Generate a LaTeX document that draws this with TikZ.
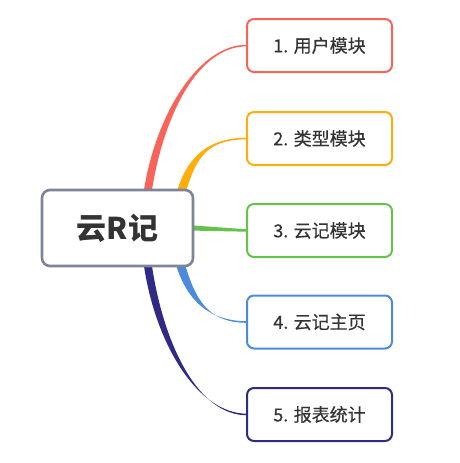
\documentclass[tikz,border=0pt]{standalone}
\usepackage{fontspec}
\newfontfamily\cjk{Noto Sans CJK SC}
\newfontfamily\cjkmed[FakeBold=0.35]{Noto Sans CJK SC}
\usetikzlibrary{calc}
\definecolor{cred}{HTML}{F8645A}
\definecolor{corange}{HTML}{FDAD0C}
\definecolor{cgreen}{HTML}{66C24C}
\definecolor{cblue}{HTML}{4C8BDB}
\definecolor{cpurple}{HTML}{302A87}
\definecolor{cgray}{HTML}{7F8497}
\definecolor{ctext}{HTML}{333333}
\newcommand\taper[7]{%
  \fill[#1] ($#2+(-#6/2,0)$) .. controls ($#3+(-#6/2,0)$) and ($#4+(0,-#7/2)$) .. ($#5+(0,-#7/2)$)
    -- ($#5+(0,#7/2)$) .. controls ($#4+(0,#7/2)$) and ($#3+(#6/2,0)$) .. ($#2+(#6/2,0)$) -- cycle;}
\tikzset{
  rootbox/.style={draw=cgray, line width=2.6pt, rounded corners=8pt, fill=white,
    minimum width=151pt, minimum height=76pt, text=ctext, font=\cjk\bfseries\fontsize{30}{34}\selectfont},
  leafbox/.style={draw=#1, line width=2pt, rounded corners=7pt, fill=white,
    minimum width=145pt, minimum height=53pt, text=ctext, font=\cjkmed\fontsize{18}{22}\selectfont},
}
\begin{document}
\begin{tikzpicture}[x=1pt,y=-1pt]
\useasboundingbox (0,0) rectangle (460,463);
% placeholders for anchors (drawn again on top)
\node[leafbox=cred, draw=none, fill=none] (b1) at (319.5,45.5) {};
\node[leafbox=corange, draw=none, fill=none] (b2) at (319.5,138.5) {};
\node[leafbox=cgreen, draw=none, fill=none] (b3) at (319.5,230.5) {};
\node[leafbox=cblue, draw=none, fill=none] (b4) at (319.5,322) {};
\node[leafbox=cpurple, draw=none, fill=none] (b5) at (319.5,414.5) {};
\node[rootbox, draw=none, fill=none] (c) at (117.5,228) {};
\coordinate (r0) at ($(c.north)+(30.5,1)$);
\coordinate (o0) at ($(c.north)+(64.5,1)$);
\coordinate (bl0) at ($(c.south)+(63.5,-1)$);
\coordinate (p0) at ($(c.south)+(30.5,-1)$);
\coordinate (r3) at ($(b1.west)+(1,0)$);
\coordinate (o3) at ($(b2.west)+(1,0)$);
\coordinate (bl3) at ($(b4.west)+(1,0)$);
\coordinate (p3) at ($(b5.west)+(1,0)$);
% connectors
\taper{cred}{(r0)}{(160,115)}{(198,45.5)}{(r3)}{8}{1.6}
\taper{corange}{(o0)}{(192,158)}{(207,138.5)}{(o3)}{9}{1.6}
\taper{cblue}{(bl0)}{(191,298)}{(207,322)}{(bl3)}{9}{1.6}
\taper{cpurple}{(p0)}{(160,345)}{(198,414.5)}{(p3)}{8}{1.6}
\fill[cgreen] ($(c.east)+(-2,-2.6)$) -- ($(b3.west)+(1,-1.2)$) -- ($(b3.west)+(1,1.2)$) -- ($(c.east)+(-2,2.6)$) -- cycle;
% boxes
\node[rootbox] (c) at (117.5,228) {云R记};
\node[leafbox=cred] (b1) at (319.5,45.5) {1. 用户模块};
\node[leafbox=corange] (b2) at (319.5,138.5) {2. 类型模块};
\node[leafbox=cgreen] (b3) at (319.5,230.5) {3. 云记模块};
\node[leafbox=cblue] (b4) at (319.5,322) {4. 云记主页};
\node[leafbox=cpurple] (b5) at (319.5,414.5) {5. 报表统计};
\end{tikzpicture}
\end{document}
